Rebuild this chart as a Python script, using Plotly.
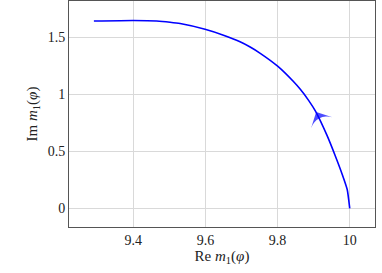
import plotly.graph_objects as go

re_m = [9.291, 9.400, 9.465, 9.502, 9.530, 9.599, 9.650, 9.696, 9.724, 9.752, 9.801, 9.844,
        9.863, 9.886, 9.905, 9.937, 9.960, 9.979, 9.993, 10.000]
im_m = [1.644, 1.649, 1.645, 1.634, 1.622, 1.572, 1.520, 1.462, 1.416, 1.361, 1.246, 1.113,
        1.045, 0.948, 0.853, 0.640, 0.460, 0.300, 0.165, 0.000]

# arrow (direction of travel: from (10,0) upward)
arrow_re = [9.925, 9.907]
arrow_im = [0.735, 0.845]

x_ticks = [9.4, 9.6, 9.8, 10]
x_labels = ["9.4", "9.6", "9.8", "10"]
y_ticks = [0, 0.5, 1, 1.5]
y_labels = ["0", "0.5", "1", "1.5"]

blue = "#0000ff"
font_family = "Liberation Serif"

fig = go.Figure()
fig.add_trace(go.Scatter(x=re_m, y=im_m, mode="lines",
                         line=dict(color=blue, width=1.6, shape="spline", smoothing=0.5),
                         showlegend=False, hoverinfo="skip"))
fig.add_trace(go.Scatter(x=arrow_re, y=arrow_im, mode="markers",
                         marker=dict(symbol="arrow-wide", size=[0, 17], color=blue, angleref="previous",
                                     line=dict(width=0)),
                         showlegend=False, hoverinfo="skip"))

axis_common = dict(showline=True, linecolor="#555555", linewidth=1, mirror=True,
                   showgrid=True, gridcolor="#d9d9d9", gridwidth=1, zeroline=False,
                   automargin=False, ticks="",
                   tickfont=dict(size=14, color="#222222", family=font_family))

fig.update_layout(
    width=382, height=273,
    margin=dict(l=69, r=7, t=1, b=46),
    paper_bgcolor="white", plot_bgcolor="white",
    font=dict(family=font_family, color="#222222"),
    xaxis=dict(range=[9.222, 10.07], tickvals=x_ticks, ticktext=x_labels,
               title=dict(text="Re <i>m</i><sub>1</sub>(<i>φ</i>)",
                          font=dict(size=15, family=font_family), standoff=2),
               **axis_common),
    yaxis=dict(range=[-0.164, 1.82], tickvals=y_ticks, ticktext=y_labels,
               title=dict(text="Im <i>m</i><sub>1</sub>(<i>φ</i>)",
                          font=dict(size=15, family=font_family), standoff=6),
               **axis_common),
)

fig.write_html("out.html", config={"displayModeBar": False},
               post_script="document.body.style.margin='0';")
